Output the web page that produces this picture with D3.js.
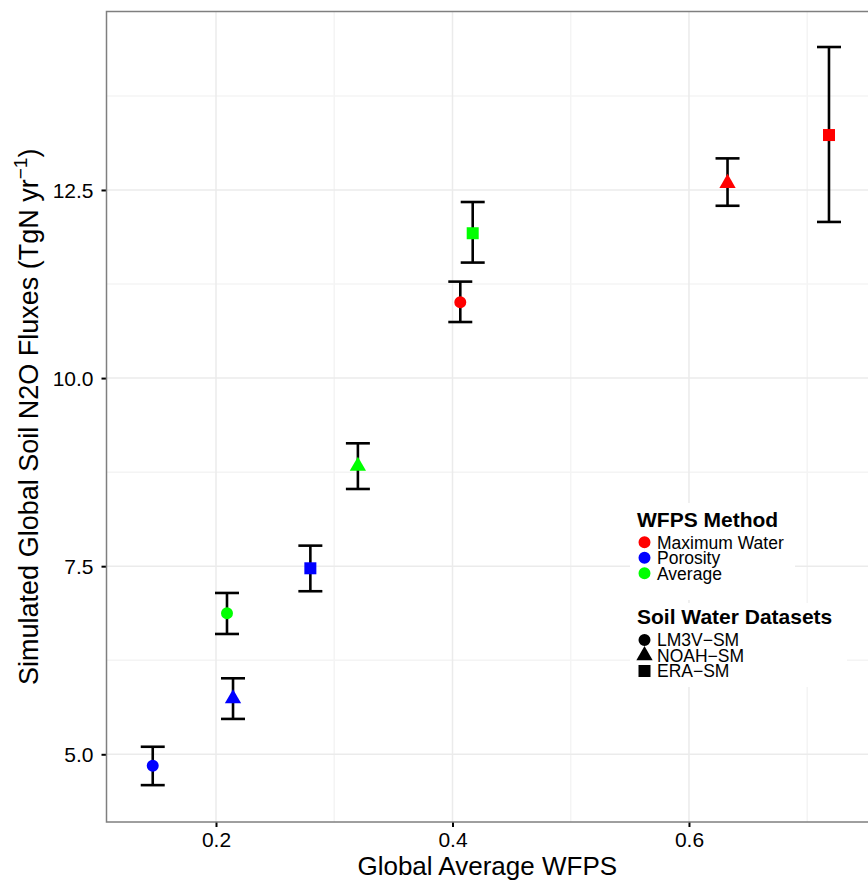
<!DOCTYPE html>
<html>
<head>
<meta charset="utf-8">
<script src="https://cdn.jsdelivr.net/npm/d3@7"></script>
<style>
  body { margin: 0; background: #fff; }
  text { font-family: "Liberation Sans", Arial, sans-serif; }
</style>
</head>
<body>
<script>
// chart data
var methods = ["Maximum Water", "Porosity", "Average"];
var datasets = ["LM3V\u2212SM", "NOAH\u2212SM", "ERA\u2212SM"];
var methodColors = ["#ff0000", "#0000ff", "#00ff00"];

var pointMethod  = [0, 0, 0, 1, 1, 1, 2, 2, 2];
var pointDataset = [0, 1, 2, 0, 1, 2, 0, 1, 2];
var wfps     = [0.4066, 0.6326, 0.7184, 0.1465, 0.2144, 0.2798, 0.2093, 0.320, 0.4171];
var flux     = [11.007, 12.59, 13.23, 4.848, 5.74, 7.472, 6.874, 8.83, 11.925];
var fluxLow  = [10.745, 12.29, 12.075, 4.59, 5.47, 7.167, 6.599, 8.526, 11.535];
var fluxHigh = [11.282, 12.92, 14.40, 5.10, 6.01, 7.773, 7.144, 9.133, 12.34];

var xTicks = [0.2, 0.4, 0.6];
var xMinor = [0.3, 0.5, 0.7];
var yTicks = [5.0, 7.5, 10.0, 12.5];
var yMinor = [6.25, 8.75, 11.25, 13.75];

var w = 868, h = 883;
var panel = {left: 106.5, right: 868, top: 11.5, bottom: 822};

var svg = d3.select("body")
    .append("svg")
    .attr("width", w)
    .attr("height", h);

var x = d3.scaleLinear()
    .domain([0.1074, 0.7514])
    .range([panel.left, panel.right]);

var y = d3.scaleLinear()
    .domain([4.10, 14.872])
    .range([panel.bottom, panel.top]);

//grid lines
var grid = svg.append("g").attr("class", "grid");
grid.selectAll(".xminor").data(xMinor).enter().append("line")
    .attr("x1", function(d){ return x(d); }).attr("x2", function(d){ return x(d); })
    .attr("y1", panel.top).attr("y2", panel.bottom)
    .style("stroke", "#f4f4f4").style("stroke-width", 1.5);
grid.selectAll(".yminor").data(yMinor).enter().append("line")
    .attr("y1", function(d){ return y(d); }).attr("y2", function(d){ return y(d); })
    .attr("x1", panel.left).attr("x2", panel.right)
    .style("stroke", "#f4f4f4").style("stroke-width", 1.5);
grid.selectAll(".xmajor").data(xTicks).enter().append("line")
    .attr("x1", function(d){ return x(d); }).attr("x2", function(d){ return x(d); })
    .attr("y1", panel.top).attr("y2", panel.bottom)
    .style("stroke", "#ebebeb").style("stroke-width", 1.5);
grid.selectAll(".ymajor").data(yTicks).enter().append("line")
    .attr("y1", function(d){ return y(d); }).attr("y2", function(d){ return y(d); })
    .attr("x1", panel.left).attr("x2", panel.right)
    .style("stroke", "#ebebeb").style("stroke-width", 1.5);

//legend backgrounds (cover the grid)
svg.append("rect").attr("x", 630).attr("y", 503).attr("width", 165).attr("height", 97)
    .style("fill", "#fff");
svg.append("rect").attr("x", 630).attr("y", 603).attr("width", 217).attr("height", 84)
    .style("fill", "#fff");

//axes
var xAxis = d3.axisBottom(x).tickValues(xTicks).tickSize(5).tickPadding(5)
    .tickFormat(d3.format(".1f"));
var gx = svg.append("g")
    .attr("transform", "translate(0," + panel.bottom + ")")
    .call(xAxis);
gx.select(".domain").remove();
gx.selectAll(".tick line").style("stroke", "#000").style("stroke-width", 2);
gx.selectAll(".tick text").style("font-size", "21px").style("fill", "#000")
    .attr("y", 10);

var yAxis = d3.axisLeft(y).tickValues(yTicks).tickSize(5).tickPadding(8)
    .tickFormat(d3.format(".1f"));
var gy = svg.append("g")
    .attr("transform", "translate(" + panel.left + ",0)")
    .call(yAxis);
gy.select(".domain").remove();
gy.selectAll(".tick line").style("stroke", "#000").style("stroke-width", 2);
gy.selectAll(".tick text").style("font-size", "21px").style("fill", "#000")
    .attr("dy", "0.36em");

//panel border
svg.append("rect")
    .attr("x", panel.left).attr("y", panel.top)
    .attr("width", panel.right - panel.left + 10)
    .attr("height", panel.bottom - panel.top)
    .style("fill", "none").style("stroke", "#7f7f7f").style("stroke-width", 1.5);

//error bars
var idx = d3.range(wfps.length);
var bars = svg.append("g").attr("class", "errorbars");
bars.selectAll(".stem").data(idx).enter().append("line")
    .attr("x1", function(i){ return x(wfps[i]); }).attr("x2", function(i){ return x(wfps[i]); })
    .attr("y1", function(i){ return y(fluxLow[i]); }).attr("y2", function(i){ return y(fluxHigh[i]); })
    .style("stroke", "#000").style("stroke-width", 2.6);
[fluxLow, fluxHigh].forEach(function(arr){
    bars.selectAll(null).data(idx).enter().append("line")
        .attr("x1", function(i){ return x(wfps[i]) - 12; }).attr("x2", function(i){ return x(wfps[i]) + 12; })
        .attr("y1", function(i){ return y(arr[i]); }).attr("y2", function(i){ return y(arr[i]); })
        .style("stroke", "#000").style("stroke-width", 2.6);
});

//point shapes
var shapes = [
    d3.symbol().type(d3.symbolCircle).size(113),
    d3.symbol().type(d3.symbolTriangle).size(115),
    d3.symbol().type(d3.symbolSquare).size(144)
];

svg.append("g").attr("class", "points")
    .selectAll("path").data(idx).enter().append("path")
    .attr("d", function(i){ return shapes[pointDataset[i]](); })
    .attr("transform", function(i){ return "translate(" + x(wfps[i]) + "," + y(flux[i]) + ")"; })
    .style("fill", function(i){ return methodColors[pointMethod[i]]; });

//axis titles
svg.append("text")
    .attr("x", (panel.left + panel.right) / 2).attr("y", 875)
    .attr("text-anchor", "middle")
    .style("font-size", "26px")
    .text("Global Average WFPS");

var yTitle = svg.append("text")
    .attr("transform", "translate(38," + (panel.top + panel.bottom) / 2 + ") rotate(-90)")
    .attr("text-anchor", "middle")
    .style("font-size", "27px");
yTitle.append("tspan").text("Simulated Global Soil N2O Fluxes (TgN yr");
yTitle.append("tspan").attr("dy", -11).style("font-size", "19px").text("\u22121");
yTitle.append("tspan").attr("dy", 11).text(")");

//legends
var leg1 = svg.append("g").attr("class", "legend");
leg1.append("text").attr("x", 637).attr("y", 527)
    .style("font-size", "21px").style("font-weight", "bold").text("WFPS Method");
leg1.selectAll(".item").data(methods).enter().append("g")
    .attr("transform", function(d, i){ return "translate(644.5," + (542.3 + i * 15.5) + ")"; })
    .each(function(d, i){
        var g = d3.select(this);
        g.append("path").attr("d", shapes[0]()).style("fill", methodColors[i]);
        g.append("text").attr("x", 12.5).attr("y", 6.2).style("font-size", "17.5px").text(d);
    });

var leg2 = svg.append("g").attr("class", "legend");
leg2.append("text").attr("x", 637).attr("y", 624)
    .style("font-size", "21px").style("font-weight", "bold").text("Soil Water Datasets");
leg2.selectAll(".item").data(datasets).enter().append("g")
    .attr("transform", function(d, i){ return "translate(644.5," + (640 + i * 15.5) + ")"; })
    .each(function(d, i){
        var g = d3.select(this);
        g.append("path").attr("d", shapes[i]()).style("fill", "#000");
        g.append("text").attr("x", 12.5).attr("y", 6.2).style("font-size", "17.5px").text(d);
    });
</script>
</body>
</html>
